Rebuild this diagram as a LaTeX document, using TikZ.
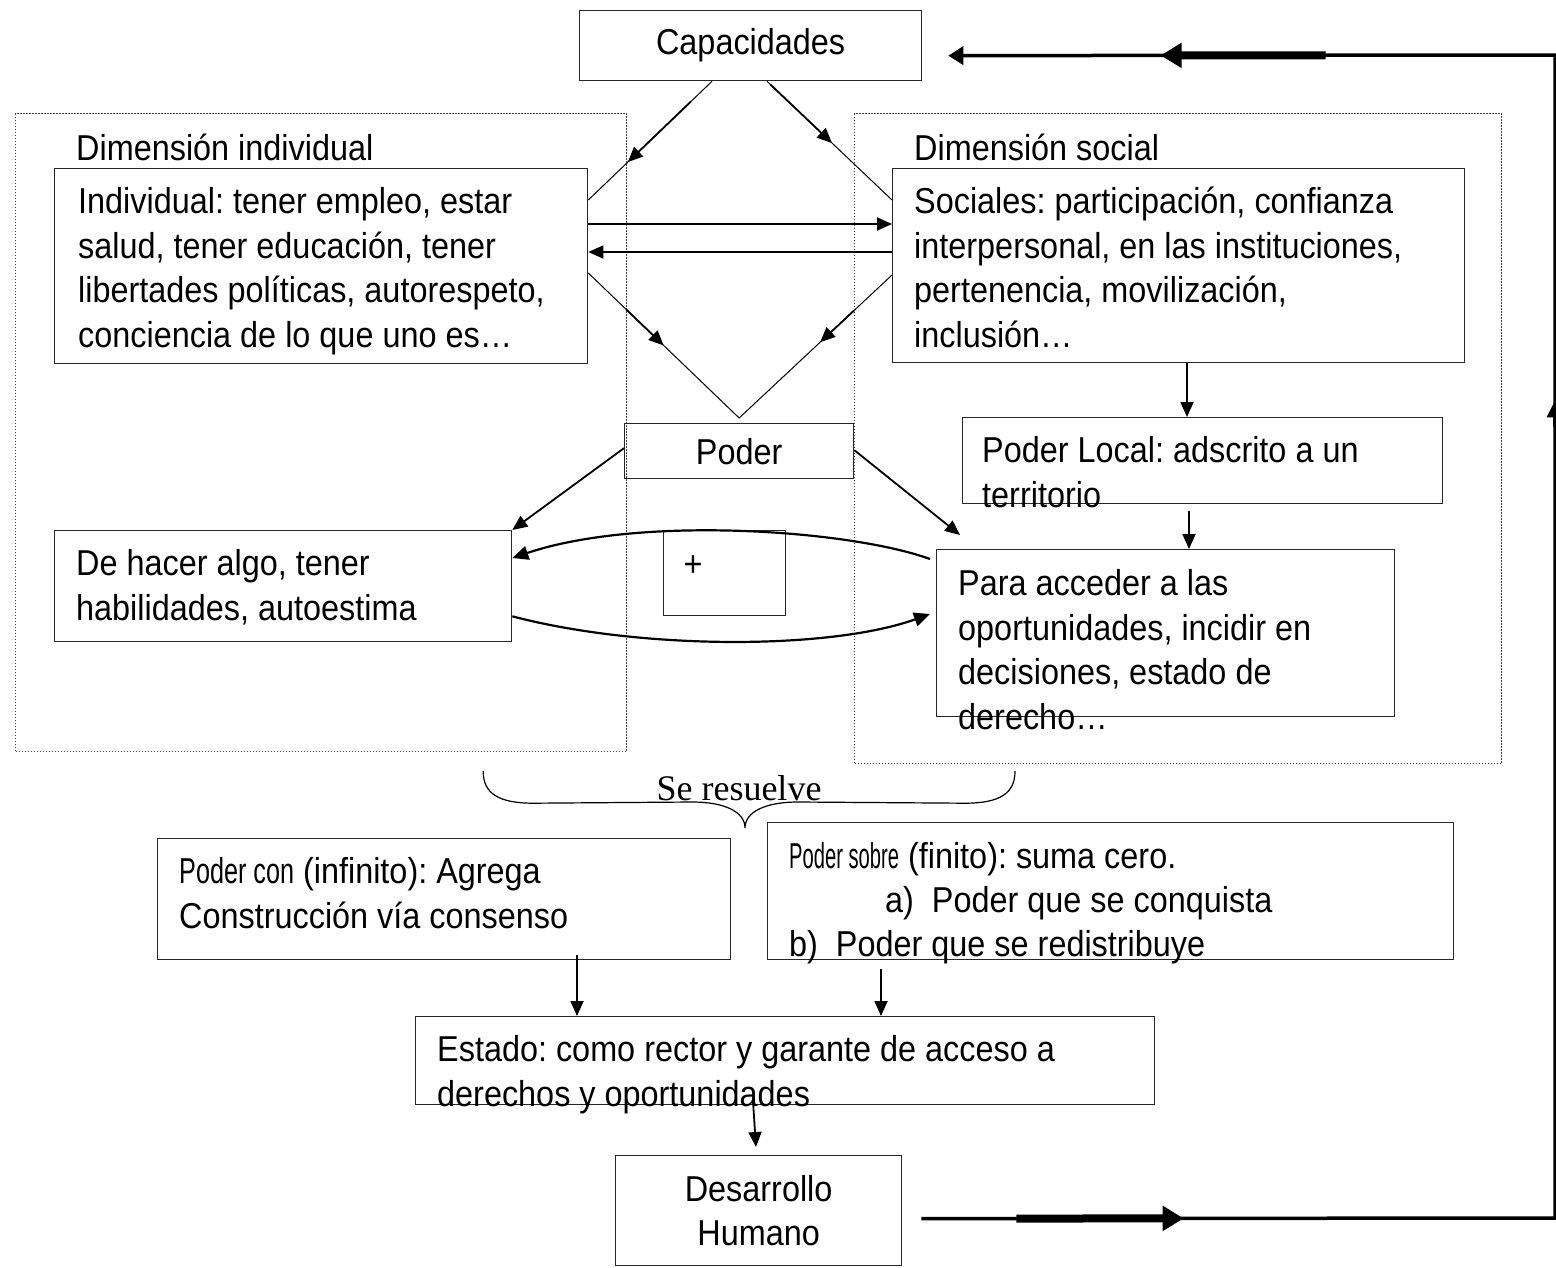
\documentclass[tikz,border=0pt]{standalone}
\usepackage{fontspec}
\setmainfont{Liberation Sans}[FakeStretch=0.9]
\newfontfamily\narrowA{Liberation Sans}[FakeStretch=0.56]
\newfontfamily\narrowB{Liberation Sans}[FakeStretch=0.70]
\newfontfamily\seriff{Liberation Serif}
\usetikzlibrary{arrows.meta,calc}
\frenchspacing
\begin{document}
\frenchspacing
\begin{tikzpicture}[x=1pt,y=-1pt,
  box/.style={draw=black!85,line width=1.3pt,anchor=north west,inner sep=0pt,rectangle},
  dotbox/.style={draw=black!75,line width=1.2pt,dash pattern=on 1.2pt off 1.8pt,anchor=north west,inner sep=0pt,rectangle},
  txt/.style={anchor=base west,inner sep=0pt,align=left},
  arr/.style={line width=1.8pt,-{Triangle[length=15pt,width=13pt]}},
  thinl/.style={line width=1pt},
  curv/.style={line width=2.2pt,-{Triangle[length=16pt,width=14pt]}},
  loopl/.style={line width=3.5pt},
  bigarr/.style={line width=8pt,-{Triangle[length=21pt,width=24pt]}},
  font=\fontsize{36}{44.5}\selectfont\frenchspacing]
\useasboundingbox (0,0) rectangle (1556,1267);
\fill[white] (0,0) rectangle (1556,1267);

% dotted regions
\node[dotbox,minimum width=611pt,minimum height=638pt] (dind) at (15,113) {};
\node[dotbox,minimum width=647pt,minimum height=650pt] (dsoc) at (854,113) {};

% boxes
\node[box,minimum width=342pt,minimum height=70pt] (cap) at (579,10) {Capacidades};
\node[box,minimum width=533pt,minimum height=195pt] (ind) at (54,168) {};
\node[box,minimum width=572pt,minimum height=194pt] (soc) at (892,168) {};
\node[box,minimum width=229pt,minimum height=55pt] (poder) at (624,423) {Poder};
\node[box,minimum width=480pt,minimum height=86pt] (loc) at (962,417) {};
\node[box,minimum width=457pt,minimum height=111pt] (hacer) at (54,530) {};
\node[box,minimum width=122pt,minimum height=85pt] (plus) at (663,530) {};
\node[box,minimum width=458pt,minimum height=167pt] (para) at (936,549) {};
\node[box,minimum width=573pt,minimum height=121pt] (pcon) at (157,838) {};
\node[box,minimum width=686pt,minimum height=137pt] (psob) at (767,822) {};
\node[box,minimum width=739pt,minimum height=88pt] (est) at (415,1016) {};
\node[box,minimum width=286pt,minimum height=110pt,align=center] (des) at (615,1155) {Desarrollo\\Humano};

% texts (base anchor = baseline of the last line)
\node[txt] (tdind) at (76,160) {Dimensión individual};
\node[txt] (tdsoc) at (914,160) {Dimensión social};
\node[txt] (tind) at (78,347) {Individual: tener empleo, estar\\salud, tener educación, tener\\libertades políticas, autorespeto,\\conciencia de lo que uno es…};
\node[txt] (tsoc) at (914,347) {Sociales: participación, confianza\\interpersonal, en las instituciones,\\pertenencia, movilización,\\inclusión…};
\node[txt] (tloc) at (982,507) {Poder Local: adscrito a un\\territorio};
\node[txt] (thacer) at (76,620) {De hacer algo, tener\\habilidades, autoestima};
\node[anchor=center,inner sep=0pt] (tplus) at (693,566) {+};
\node[txt] (tpara) at (958,729) {Para acceder a las\\oportunidades, incidir en\\decisiones, estado de\\derecho…};
\node[txt] (tpcon) at (179,928) {{\narrowB Poder con} (infinito): Agrega\\Construcción vía consenso};
\node[txt] (tpsob1) at (789,868) {{\narrowA Poder sobre} (finito): suma cero.};
\node[txt] (tpsob2) at (885,912) {a)\ \ Poder que se conquista};
\node[txt] (tpsob3) at (789,956) {b)\ \ Poder que se redistribuye};
\node[txt] (test) at (437,1106) {Estado: como rector y garante de acceso a\\derechos y oportunidades};
\node[anchor=base,inner sep=0pt] (tres) at (739,800) {\seriff Se resuelve};

% diamond
\coordinate (cL) at ($(cap.south west)+(133,0)$);
\coordinate (cR) at ($(cap.south west)+(188,0)$);
\coordinate (iT) at ($(ind.north east)+(0,32)$);
\coordinate (sT) at ($(soc.north west)+(0,32)$);
\coordinate (iB) at ($(ind.north east)+(0,105)$);
\coordinate (sB) at ($(soc.north west)+(0,107)$);
\coordinate (dB) at ($(poder.north)+(0,-5)$);
\draw[thinl] (cL) -- (iT);
\draw[thinl] (cR) -- (sT);
\draw[thinl] (iB) -- (dB) -- (sB);
\draw[arr] ($(cL)!0.17!(iT)$) -- ($(cL)!0.68!(iT)$);
\draw[arr] ($(cR)!0.03!(sT)$) -- ($(cR)!0.52!(sT)$);
\draw[arr] ($(iB)!0.25!(dB)$) -- ($(iB)!0.50!(dB)$);
\draw[arr] ($(sB)!0.25!(dB)$) -- ($(sB)!0.47!(dB)$);

% horizontal arrows between dimensions
\draw[arr] ($(ind.north east)+(0,56)$) -- ($(soc.north west)+(0,56)$);
\draw[arr] ($(soc.north west)+(0,84)$) -- ($(ind.north east)+(0,84)$);

% vertical arrows right column
\draw[arr] ($(soc.south west)+(295,0)$) -- ($(loc.north west)+(225,0)$);
\draw[arr] ($(loc.south west)+(227,7)$) -- ($(para.north west)+(253,0)$);

% poder arrows
\draw[arr] ($(poder.west)+(0,-3)$) -- (hacer.north east);
\draw[arr] ($(poder.east)+(0,-1)$) -- ($(para.north west)+(24,-14)$);

% curves
\draw[curv] ($(para.north west)+(-6,10)$) .. controls (850,530) and (640,515) .. ($(hacer.north east)+(0,28)$);
\draw[curv] ($(hacer.south east)+(0,-26)$) .. controls (640,650) and (830,650) .. ($(para.north west)+(-6,65)$);

% brace
\coordinate (bl) at ($(dind.south east)+(-144,19)$);
\coordinate (br) at ($(dsoc.south west)+(161,7)$);
\coordinate (bt) at (745,828);
\draw[line width=1.2pt] (bl) .. controls ($(bl)+(0,22)$) and ($(bl)+(15,32)$) .. ($(bl)+(50,32)$)
  -- (692,802) .. controls (725,802) and (745,812) .. (bt)
  .. controls (745,812) and (765,802) .. (798,802)
  -- ($(br)+(-50,32)$) .. controls ($(br)+(-15,32)$) and ($(br)+(0,22)$) .. (br);

% lower arrows
\draw[arr] ($(pcon.south west)+(420,-5)$) -- ($(est.north west)+(162,0)$);
\draw[arr] ($(psob.south west)+(114,9)$) -- ($(est.north west)+(466,0)$);
\draw[arr] ($(est.south west)+(338,-4)$) -- ($(des.north west)+(141,-8)$);

% feedback loop
\coordinate (lb) at ($(des.east)+(19,8)$);
\coordinate (cornerB) at (1555,1218);
\coordinate (cornerT) at (1555,55);
\coordinate (ltip) at ($(cap.east)+(26,10)$);
\draw[loopl,-{Triangle[length=15pt,width=18pt]}] (lb) -- (cornerB) -- (cornerT) -- (ltip);
\draw[bigarr] ($(lb)!0.15!(cornerB)$) -- ($(lb)!0.414!(cornerB)$);
\draw[bigarr] ($(cornerT)!0.378!(ltip)$) -- ($(cornerT)!0.65!(ltip)$);
\draw[loopl,-{Triangle[length=17pt,width=16pt]}] ($(cornerB)!0.68!(cornerT)$) -- ($(cornerB)!0.703!(cornerT)$);
\end{tikzpicture}
\end{document}
